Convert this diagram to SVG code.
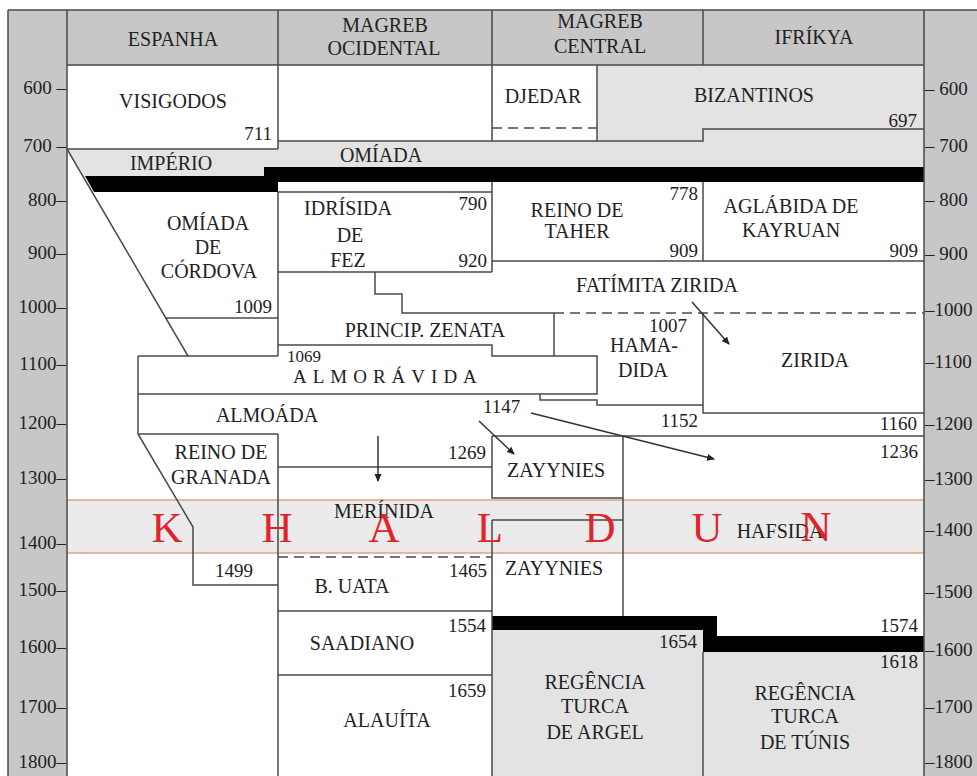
<svg xmlns="http://www.w3.org/2000/svg" width="977" height="776" viewBox="0 0 977 776">
<defs>
<style>
text{font-family:"Liberation Serif","Times New Roman",serif}
.t{font-family:"Liberation Serif","Times New Roman",serif;fill:#222}
.lbl{font-size:20px;text-anchor:middle}
.num{font-size:19px;text-anchor:end}
.axl{font-size:19px;text-anchor:end}
.axr{font-size:19px;text-anchor:start}
.ln{stroke:#4a4a4a;stroke-width:1.5;fill:none}
.dash{stroke-dasharray:10 6}
.kh{font-size:43px;fill:#e3232b;text-anchor:middle}
.arr{stroke:#333;stroke-width:1.5;fill:none;marker-end:url(#ah)}
.lg{fill:#e3e3e3}
.ax{fill:#c7c7c7}
</style>
<marker id="ah" viewBox="0 0 8 8" refX="7" refY="4" markerWidth="8" markerHeight="8" markerUnits="userSpaceOnUse" orient="auto">
<path d="M0,0.5 L8,4 L0,7.5 z" fill="#222"/>
</marker>
</defs>
<rect width="977" height="776" fill="#fff"/>

<g id="axes">
<rect class="ax" x="8" y="10" width="59" height="766"/>
<rect class="ax" x="924" y="10" width="53" height="766"/>
<g class="t axl">
<text x="66" y="94">600 –</text><text x="66" y="152">700 –</text><text x="66" y="206">800–</text><text x="66" y="259">900–</text>
<text x="66" y="313">1000–</text><text x="66" y="370">1100–</text><text x="66" y="429">1200–</text><text x="66" y="484">1300–</text>
<text x="66" y="549">1400–</text><text x="66" y="596">1500–</text><text x="66" y="653">1600–</text><text x="66" y="713">1700–</text><text x="66" y="768">1800–</text>
</g>
<g class="t axr">
<text x="925" y="95">– 600</text><text x="925" y="152">– 700</text><text x="925" y="206">– 800</text><text x="925" y="260">– 900</text>
<text x="925" y="316">–1000</text><text x="925" y="368">–1100</text><text x="925" y="430">–1200</text><text x="925" y="485">–1300</text>
<text x="925" y="536">–1400</text><text x="925" y="598">–1500</text><text x="925" y="656">–1600</text><text x="925" y="713">–1700</text><text x="925" y="768">–1800</text>
</g>
</g>

<g id="header">
<rect class="ax" x="67" y="10" width="857" height="55"/>
<g class="t lbl">
<text x="173" y="46">ESPANHA</text>
<text x="385" y="32">MAGREB</text><text x="384" y="55">OCIDENTAL</text>
<text x="600" y="28">MAGREB</text><text x="600" y="53">CENTRAL</text>
<text x="814" y="44">IFRÍKYA</text>
</g>
</g>

<g id="fills">
<polygon class="lg" points="597,65 924,65 924,129 703,129 703,140 597,140"/>
<polygon class="lg" points="67,149 278,149 278,141 703,141 703,129 924,129 924,167 264,167 264,176 85,176"/>
<polygon fill="#000" points="85,176 264,176 264,167 924,167 924,182 278,182 278,192 94,192"/>
<rect class="lg" x="492" y="630" width="211" height="146"/>
<rect class="lg" x="703" y="652" width="221" height="124"/>
<polygon fill="#000" points="492,616 717,616 717,636 924,636 924,652 703,652 703,630 492,630"/>
</g>

<g id="khaldun-band">
<rect x="67" y="500" width="857" height="53" fill="#ebebeb"/>
<path d="M67,500 H924 M67,553 H924" stroke="#e8a27c" stroke-width="1.5"/>
</g>

<g id="grid" class="ln">
<path d="M8,10 H977 M8,10 V776 M67,10 V776 M924,10 V776 M67,65 H924"/>
<path d="M278,10 V149 M492,10 V141 M703,10 V65"/>
<path d="M67,149 H278 M278,141 H703 V129 H924"/>
<path d="M597,65 V141"/>
<path class="dash" d="M492,128 H597"/>
<path d="M67,149 L188,356"/>
<path d="M278,192 V356 M278,192 H492 M492,182 V272 M278,272 H492"/>
<path d="M703,182 V261 M492,261 H924"/>
<path d="M375,272 V294 H402 V313 H554 V356"/>
<path class="dash" d="M554,313 H924"/>
<path d="M166,318 H278"/>
<path d="M138,356 H278 M278,345 H492 V356 H597 V394 H138 M138,356 V434"/>
<path d="M540,394 V400 H597 V405 H703 V413 H924 M703,313 V413"/>
<path d="M138,434 H278 M138,434 L193,527 V585 H278 M278,434 V776"/>
<path d="M492,436 H924 M492,436 V498 H623 M623,436 V616"/>
<path d="M278,467 H492"/>
<path d="M492,520 H623 M492,520 V776"/>
<path class="dash" d="M278,557 H492"/>
<path d="M278,611 H492 M278,675 H492"/>
<path d="M703,652 V776"/>
</g>

<g id="visigodos" class="t"><text class="lbl" x="173" y="108">VISIGODOS</text><text class="num" x="272" y="140">711</text></g>
<g id="djedar" class="t"><text class="lbl" x="543" y="103">DJEDAR</text></g>
<g id="bizantinos" class="t"><text class="lbl" x="754" y="102">BIZANTINOS</text><text class="num" x="917" y="127">697</text></g>
<g id="imperio-omiada" class="t"><text class="lbl" x="171" y="170">IMPÉRIO</text><text class="lbl" x="381" y="162">OMÍADA</text></g>
<g id="omiada-cordova" class="t">
<text class="lbl" x="208" y="230">OMÍADA</text><text class="lbl" x="208" y="254">DE</text><text class="lbl" x="209" y="278">CÓRDOVA</text>
<text class="num" x="272" y="313">1009</text>
</g>
<g id="idrisida" class="t">
<text class="lbl" x="348" y="215">IDRÍSIDA</text><text class="lbl" x="350" y="242">DE</text><text class="lbl" x="348" y="267">FEZ</text>
<text class="num" x="487" y="210">790</text><text class="num" x="487" y="267">920</text>
</g>
<g id="reino-taher" class="t">
<text class="lbl" x="577" y="217">REINO DE</text><text class="lbl" x="577" y="238">TAHER</text>
<text class="num" x="698" y="200">778</text><text class="num" x="698" y="257">909</text>
</g>
<g id="aglabida" class="t">
<text class="lbl" x="791" y="213">AGLÁBIDA DE</text><text class="lbl" x="791" y="237">KAYRUAN</text>
<text class="num" x="918" y="257">909</text>
</g>
<g id="fatimita-zirida" class="t"><text class="lbl" x="657" y="292">FATÍMITA ZIRIDA</text></g>
<g id="princip-zenata" class="t"><text class="lbl" x="425" y="337">PRINCIP. ZENATA</text></g>
<g id="hamadida" class="t">
<text class="lbl" x="668" y="332" style="font-size:19px">1007</text>
<text class="lbl" x="644" y="352">HAMA-</text><text class="lbl" x="643" y="377">DIDA</text>
<text class="num" x="698" y="427">1152</text>
</g>
<g id="zirida" class="t"><text class="lbl" x="815" y="367">ZIRIDA</text><text class="num" x="917" y="430">1160</text></g>
<g id="almoravida" class="t">
<text x="287" y="362" style="font-size:17px">1069</text>
<text x="293" y="383" style="font-size:19px;letter-spacing:6px">ALMORÁVIDA</text>
</g>
<g id="almoada" class="t">
<text class="lbl" x="267" y="422">ALMOÁDA</text>
<text x="483" y="413" style="font-size:19px">1147</text>
<text class="num" x="918" y="458">1236</text>
</g>
<g id="granada" class="t">
<text class="lbl" x="221" y="459">REINO DE</text><text class="lbl" x="221" y="484">GRANADA</text>
<text class="lbl" x="234" y="577" style="font-size:19px">1499</text>
</g>
<g id="zayynies-1" class="t"><text class="lbl" x="556" y="477">ZAYYNIES</text></g>
<g id="merinida" class="t">
<text class="lbl" x="384" y="518">MERÍNIDA</text>
<text class="num" x="486" y="459">1269</text>
</g>
<g id="khaldun">
<text class="kh" x="167" y="542">K</text><text class="kh" x="277" y="542">H</text><text class="kh" x="384" y="542">A</text>
<text class="kh" x="490" y="542">L</text><text class="kh" x="600" y="542">D</text><text class="kh" x="707" y="542">U</text>
</g>
<g id="hafsida" class="t"><text class="lbl" x="780" y="538">HAFSIDA</text></g>
<g id="khaldun-n"><text class="kh" x="816" y="541">N</text></g>
<g id="zayynies-2" class="t"><text class="lbl" x="554" y="575">ZAYYNIES</text><text class="num" x="487" y="577">1465</text></g>
<g id="b-uata" class="t"><text class="lbl" x="352" y="593">B. UATA</text></g>
<g id="saadiano" class="t"><text class="lbl" x="362" y="650">SAADIANO</text><text class="num" x="486" y="632">1554</text></g>
<g id="alauita" class="t"><text class="lbl" x="387" y="727">ALAUÍTA</text><text class="num" x="486" y="697">1659</text></g>
<g id="regencia-argel" class="t">
<text class="lbl" x="595" y="689">REGÊNCIA</text><text class="lbl" x="595" y="713">TURCA</text><text class="lbl" x="595" y="739">DE ARGEL</text>
<text class="num" x="697" y="648">1654</text>
</g>
<g id="regencia-tunis" class="t">
<text class="lbl" x="805" y="700">REGÊNCIA</text><text class="lbl" x="805" y="723">TURCA</text><text class="lbl" x="805" y="749">DE TÚNIS</text>
<text class="num" x="918" y="632">1574</text><text class="num" x="918" y="668">1618</text>
</g>

<g id="connectors">
<path class="arr" d="M378,436 V481"/>
<path class="arr" d="M479,421 L514,454"/>
<path class="arr" d="M531,413 L714,459"/>
<path class="arr" d="M692,302 L729,344"/>
</g>
</svg>
